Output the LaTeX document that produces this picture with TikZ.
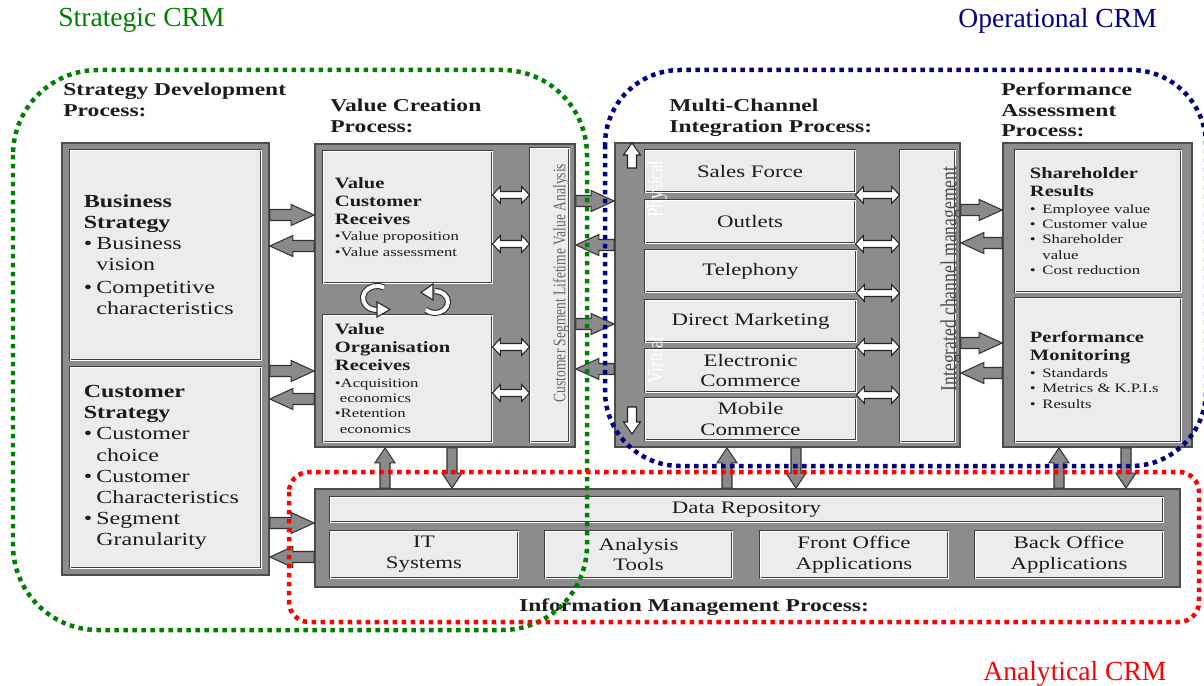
\documentclass[tikz,border=0pt]{standalone}
\usepackage{fontspec}
\setmainfont{Liberation Serif}[FakeStretch=1.3]
\newfontfamily\titlefont{Liberation Serif}
\newfontfamily\sidefont{Liberation Serif}[FakeStretch=0.77]
\usetikzlibrary{calc,fit,positioning}

\definecolor{framegray}{RGB}{140,140,140}
\definecolor{boxgray}{RGB}{236,236,236}
\definecolor{arrgray}{RGB}{138,138,138}
\definecolor{txt}{RGB}{28,28,28}
\definecolor{crmgreen}{RGB}{0,128,0}
\definecolor{crmblue}{RGB}{0,0,128}
\definecolor{crmred}{RGB}{255,0,0}

\newcommand\bul{\makebox[0.25cm][l]{\textbullet}}
\newcommand\bulind{\hspace*{0.25cm}}
\newcommand\bultxt{\fontsize{7.3}{8.8}\selectfont}

% block arrow: style, tail, tip, half shaft, half head, head length
\newcommand\onearrow[6]{%
  \coordinate (hb) at ($#3!#6!#2$);
  \draw[#1] ($#2!#4!90:#3$) -- ($(hb)!#4!-90:#2$) -- ($(hb)!#5!-90:#2$) -- #3
    -- ($(hb)!#5!90:#2$) -- ($(hb)!#4!90:#2$) -- ($#2!#4!-90:#3$) -- cycle;}

% double headed block arrow: style, end, end, half shaft, half head
\newcommand\twoarrow[5]{%
  \coordinate (ha) at ($#2!0.16cm!#3$);
  \coordinate (hb) at ($#3!0.16cm!#2$);
  \draw[#1] #2 -- ($(ha)!#5!90:#3$) -- ($(ha)!#4!90:#3$) -- ($(hb)!#4!-90:#2$)
    -- ($(hb)!#5!-90:#2$) -- #3 -- ($(hb)!#5!90:#2$) -- ($(hb)!#4!90:#2$)
    -- ($(ha)!#4!-90:#3$) -- ($(ha)!#5!-90:#3$) -- cycle;}

\begin{document}
\begin{tikzpicture}[x=0.02cm, y=-0.02cm,
    outbox/.style={draw=black!70, fill=framegray, line width=1pt, inner sep=0pt},
    inbox/.style={draw=black!75, double=white, double distance=0.4pt, line width=0.5pt, fill=boxgray, inner sep=0pt},
    chantxt/.style={inner sep=0pt, text=txt, font=\fontsize{10}{11.9}\selectfont, align=center},
    heading/.style={inner sep=0pt, anchor=west, align=left, text=txt, font=\fontsize{10.3}{11.8}\selectfont\bfseries},
    bigtxt/.style={inner sep=0pt, align=left, text=txt, font=\fontsize{10.5}{12}\selectfont},
    smalltxt/.style={inner sep=0pt, align=left, text=txt, font=\fontsize{9}{10.2}\selectfont},
    sidetxt/.style={inner sep=0pt, rotate=90},
    garr/.style={draw=black!80, fill=arrgray, line width=0.6pt},
    warr/.style={draw=black!85, fill=white, line width=0.6pt},
    cyc/.style={draw=black!85, double=white, double distance=0.08cm, line width=0.6pt},
    crmline/.style={line width=0.09cm, dash pattern=on 0.09cm off 0.09cm, rounded corners=#1},
    crmtitle/.style={inner sep=0pt, anchor=west, font=\titlefont\fontsize{15.7}{18}\selectfont}]

\fill[white] (0,0) rectangle (1204,686);
\useasboundingbox (0,0) rectangle (1204,686);

% CRM group titles
\node[crmtitle, text=crmgreen] (stratcrm) at (58,20.5) {Strategic CRM};
\node[crmtitle, text=crmblue] (opcrm) at (958,21) {Operational CRM};
\node[crmtitle, text=crmred] (anacrm) at (983,674) {Analytical CRM};

% process headings
\node[heading] (sdp) at (63,100) {Strategy Development\\Process:};
\node[heading] (vcp) at (330,116) {Value Creation\\Process:};
\node[heading] (mcp) at (669,118) {Multi-Channel\\Integration Process:};
\node[heading] (pah) at (1001,110) {Performance\\Assessment\\Process:};

% strategy development process
\node[outbox, fit={(62,143) (269,575)}] (strat) {};
\node[inbox, fit={(70,150) (261,360)}] (bus) {};
\node[inbox, fit={(70,367) (261,568)}] (cus) {};
\node[bigtxt, right=0.28cm of bus.west] (bustxt) {\textbf{Business}\\\textbf{Strategy}\\\bul Business\\\bulind vision\\[1pt]\bul Competitive\\\bulind characteristics};
\node[bigtxt, right=0.28cm of cus.west] (custxt) {\textbf{Customer}\\\textbf{Strategy}\\\bul Customer\\\bulind choice\\\bul Customer\\\bulind Characteristics\\\bul Segment\\\bulind Granularity};

% value creation process
\node[outbox, fit={(315,144) (575,447)}] (val) {};
\node[inbox, fit={(323,151) (492,283)}] (vcr) {};
\node[inbox, fit={(323,315) (492,442)}] (vor) {};
\node[inbox, fit={(530,148) (569,442)}] (cslva) {};
\node[smalltxt, right=0.24cm of vcr.west] (vcrtxt) {\textbf{Value}\\\textbf{Customer}\\\textbf{Receives}\\[-1.1pt]{\bultxt\textbullet Value proposition}\\[-1.1pt]{\bultxt\textbullet Value assessment}};
\node[smalltxt, right=0.24cm of vor.west] (vortxt) {\textbf{Value}\\\textbf{Organisation}\\\textbf{Receives}\\[0pt]{\bultxt\textbullet Acquisition}\\[-1.7pt]{\bultxt\hspace*{0.1cm}economics}\\[-1.7pt]{\bultxt\textbullet Retention}\\[-1.2pt]{\bultxt\hspace*{0.1cm}economics}};
\node[sidetxt, text=black!60, font=\sidefont\fontsize{10}{12}\selectfont] (cslvatxt) at (561,283) {Customer Segment Lifetime Value Analysis};

% value cycle
\draw[cyc] (384,287.6) arc[start angle=60, end angle=270, x radius=0.28cm, y radius=0.24cm];
\draw[warr] (377,302) -- (390,309.5) -- (377,317) -- cycle;
\draw[cyc] (425.8,309.8) arc[start angle=225, end angle=450, x radius=0.26cm, y radius=0.22cm];
\draw[warr] (433,284) -- (421,292.5) -- (433,300) -- cycle;

% multi-channel integration process
\node[outbox, fit={(615,143) (960,447)}] (mcip) {};
\node[inbox, fit={(645,150) (855,192)}, label={[chantxt]center:Sales Force}] (sales) {};
\node[inbox, fit={(645,200) (855,243)}, label={[chantxt]center:Outlets}] (outl) {};
\node[inbox, fit={(645,250) (856,292)}, label={[chantxt]center:Telephony}] (tel) {};
\node[inbox, fit={(645,300) (856,342)}, label={[chantxt]center:Direct Marketing}] (dm) {};
\node[inbox, fit={(645,349) (856,392)}, label={[chantxt]center:Electronic\\Commerce}] (ec) {};
\node[inbox, fit={(645,398) (856,440)}, label={[chantxt]center:Mobile\\Commerce}] (mc) {};
\node[inbox, fit={(900,150) (955,442)}] (icm) {};
\node[sidetxt, text=white, font=\sidefont\fontsize{12.5}{14}\selectfont] (phys) at (657,189) {Physical};
\node[sidetxt, text=white, font=\sidefont\fontsize{12.5}{14}\selectfont] (virt) at (655,360) {Virtual};
\node[sidetxt, text=black!70, font=\sidefont\fontsize{13}{15}\selectfont] (icmtxt) at (951,279) {Integrated channel management};
\onearrow{warr}{(632,168)}{(632,143)}{0.09cm}{0.17cm}{0.24cm}
\onearrow{warr}{(632,407)}{(632,434)}{0.09cm}{0.17cm}{0.24cm}

% performance assessment process
\node[outbox, fit={(1003,143) (1192,447)}] (pap) {};
\node[inbox, fit={(1015,150) (1181,292)}] (shr) {};
\node[inbox, fit={(1015,298) (1181,442)}] (perf) {};
\node[smalltxt, right=0.3cm of shr.west] (shrtxt) {\textbf{Shareholder}\\\textbf{Results}\\[-0.6pt]{\bultxt\bul Employee value}\\[-1.5pt]{\bultxt\bul Customer value}\\[-1.5pt]{\bultxt\bul Shareholder}\\[-1.5pt]{\bultxt\bulind value}\\[-1.5pt]{\bultxt\bul Cost reduction}};
\node[smalltxt, right=0.3cm of perf.west] (perftxt) {\textbf{Performance}\\\textbf{Monitoring}\\[-0.6pt]{\bultxt\bul Standards}\\[-1.5pt]{\bultxt\bul Metrics \& K.P.I.s}\\[-1.5pt]{\bultxt\bul Results}};

% information management process
\node[outbox, fit={(315,489) (1180,587)}] (imp) {};
\node[inbox, fit={(330,497) (1163,522)}, label={[chantxt]center:Data Repository}] (repo) {};
\node[inbox, fit={(330,531) (518,578)}, label={[chantxt]center:IT\\Systems}] (its) {};
\node[inbox, fit={(545,531) (732,578)}, label={[chantxt]center:Analysis\\Tools}] (ana) {};
\node[inbox, fit={(760,531) (948,578)}, label={[chantxt]center:Front Office\\Applications}] (front) {};
\node[inbox, fit={(975,531) (1163,578)}, label={[chantxt]center:Back Office\\Applications}] (back) {};
\node[heading, anchor=center] (imptitle) at (694,607) {Information Management Process:};

% links between processes
\onearrow{garr}{(strat.east |- 0,215)}{(val.west |- 0,215)}{0.11cm}{0.21cm}{0.46cm}
\onearrow{garr}{(val.west |- 0,246)}{(strat.east |- 0,246)}{0.11cm}{0.21cm}{0.46cm}
\onearrow{garr}{(strat.east |- 0,371)}{(val.west |- 0,371)}{0.11cm}{0.21cm}{0.46cm}
\onearrow{garr}{(val.west |- 0,399)}{(strat.east |- 0,399)}{0.11cm}{0.21cm}{0.46cm}
\onearrow{garr}{(strat.east |- 0,523)}{(imp.west |- 0,523)}{0.11cm}{0.21cm}{0.46cm}
\onearrow{garr}{(imp.west |- 0,557)}{(strat.east |- 0,557)}{0.11cm}{0.21cm}{0.46cm}
\onearrow{garr}{(val.east |- 0,201)}{(mcip.west |- 0,201)}{0.11cm}{0.21cm}{0.46cm}
\onearrow{garr}{(mcip.west |- 0,245)}{(val.east |- 0,245)}{0.11cm}{0.21cm}{0.46cm}
\onearrow{garr}{(val.east |- 0,324)}{(mcip.west |- 0,324)}{0.11cm}{0.21cm}{0.46cm}
\onearrow{garr}{(mcip.west |- 0,369)}{(val.east |- 0,369)}{0.11cm}{0.21cm}{0.46cm}
\onearrow{garr}{(mcip.east |- 0,210)}{(pap.west |- 0,210)}{0.11cm}{0.21cm}{0.46cm}
\onearrow{garr}{(pap.west |- 0,243)}{(mcip.east |- 0,243)}{0.11cm}{0.21cm}{0.46cm}
\onearrow{garr}{(mcip.east |- 0,343)}{(pap.west |- 0,343)}{0.11cm}{0.21cm}{0.46cm}
\onearrow{garr}{(pap.west |- 0,373)}{(mcip.east |- 0,373)}{0.11cm}{0.21cm}{0.46cm}

\onearrow{garr}{(imp.north -| 385,0)}{(val.south -| 385,0)}{0.1cm}{0.2cm}{0.3cm}
\onearrow{garr}{(val.south -| 452,0)}{(imp.north -| 452,0)}{0.1cm}{0.2cm}{0.3cm}
\onearrow{garr}{(imp.north -| 727,0)}{(mcip.south -| 727,0)}{0.1cm}{0.2cm}{0.3cm}
\onearrow{garr}{(mcip.south -| 796,0)}{(imp.north -| 796,0)}{0.1cm}{0.2cm}{0.3cm}
\onearrow{garr}{(imp.north -| 1059,0)}{(pap.south -| 1059,0)}{0.1cm}{0.2cm}{0.3cm}
\onearrow{garr}{(pap.south -| 1126,0)}{(imp.north -| 1126,0)}{0.1cm}{0.2cm}{0.3cm}

% links inside value creation and channel integration
\twoarrow{warr}{(vcr.east |- 0,195)}{(cslva.west |- 0,195)}{0.07cm}{0.17cm}
\twoarrow{warr}{(vcr.east |- 0,244)}{(cslva.west |- 0,244)}{0.07cm}{0.17cm}
\twoarrow{warr}{(vor.east |- 0,347)}{(cslva.west |- 0,347)}{0.07cm}{0.17cm}
\twoarrow{warr}{(vor.east |- 0,393)}{(cslva.west |- 0,393)}{0.07cm}{0.17cm}
\twoarrow{warr}{(sales.east |- 0,195)}{(icm.west |- 0,195)}{0.07cm}{0.17cm}
\twoarrow{warr}{(outl.east |- 0,244)}{(icm.west |- 0,244)}{0.07cm}{0.17cm}
\twoarrow{warr}{(tel.east |- 0,293)}{(icm.west |- 0,293)}{0.07cm}{0.17cm}
\twoarrow{warr}{(dm.east |- 0,347)}{(icm.west |- 0,347)}{0.07cm}{0.17cm}
\twoarrow{warr}{(ec.east |- 0,395)}{(icm.west |- 0,395)}{0.07cm}{0.17cm}

% CRM areas
\draw[crmline=1.7cm, crmgreen] (13,70) rectangle (587,630);
\draw[crmline=1.5cm, crmblue] (605,70) rectangle (1206,466);
\draw[crmline=0.4cm, crmred] (289,472) rectangle (1199,622);
\end{tikzpicture}
\end{document}
